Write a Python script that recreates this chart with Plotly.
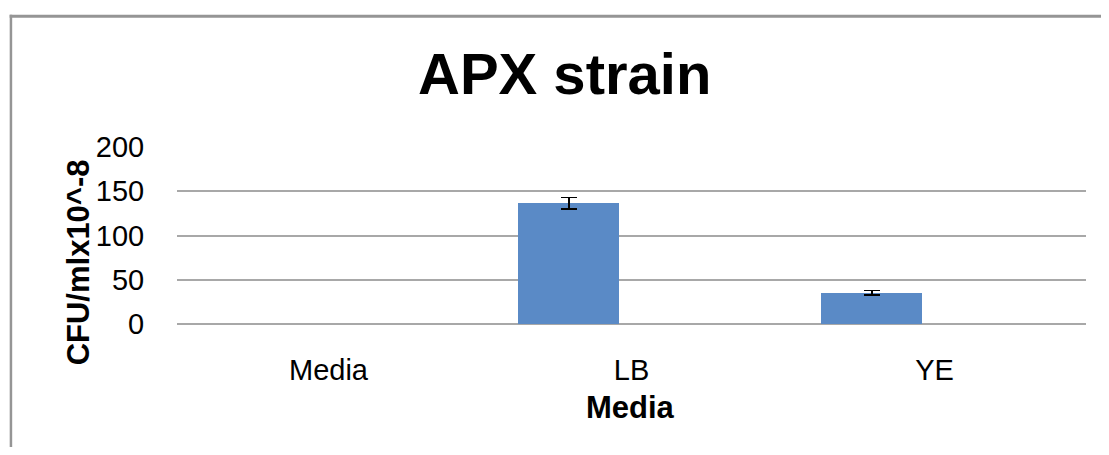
import plotly.graph_objects as go

# ---- data ----
categories = ["Media", "LB", "YE"]
cfu_values = [None, 136.2, 35.1]   # Media: no visible bar (0 / no growth)
cfu_errors = [None, 6.5, 2.5]
y_ticks = [0, 50, 100, 150, 200]

W, H = 1109, 455
OFF = 8  # default page body margin
FW, FH = W - 2 * OFF, H - 2 * OFF
# plot area in page pixels
PL, PR, PT, PB = 177.3, 1086.0, 147.0, 323.7
pw, ph = PR - PL, PB - PT

def px_x(x):
    return (x - PL) / pw

def px_y(y):
    return (PB - y) / ph

FONT = "Liberation Sans, Arial, sans-serif"

fig = go.Figure()
fig.add_trace(go.Bar(
    x=categories,
    y=cfu_values,
    width=0.333,
    offset=-0.373,
    marker=dict(color="#5a8ac6", line=dict(width=0)),
    error_y=dict(type="data", array=cfu_errors, visible=True,
                 color="black", thickness=1.5, width=8),
    showlegend=False,
))

fig.update_layout(
    width=FW, height=FH,
    margin=dict(l=PL - OFF, r=(OFF + FW) - PR, t=PT - OFF, b=(OFF + FH) - PB, pad=0),
    paper_bgcolor="white",
    plot_bgcolor="white",
    font=dict(family=FONT, color="black"),
    showlegend=False,
    bargap=0,
)

fig.update_xaxes(
    type="category",
    range=[-0.5, 2.5],
    showgrid=False,
    showline=False,
    zeroline=False,
    ticks="outside", ticklen=20, tickcolor="rgba(0,0,0,0)",
    tickfont=dict(size=29, family=FONT, color="black"),
)
fig.update_yaxes(
    range=[0, 200],
    tickvals=y_ticks,
    showgrid=True, gridcolor="#a8a8a8", gridwidth=1.5,
    zeroline=True, zerolinecolor="#a8a8a8", zerolinewidth=1.5,
    showline=False,
    ticks="outside", ticklen=26, tickcolor="rgba(0,0,0,0)",
    tickfont=dict(size=29, family=FONT, color="black"),
)

# title
fig.add_annotation(
    text="<b>APX strain</b>", xref="paper", yref="paper",
    x=px_x(565), y=px_y(74), xanchor="center", yanchor="middle",
    showarrow=False, font=dict(size=58, family=FONT, color="black"),
)
# x axis title
fig.add_annotation(
    text="<b>Media</b>", xref="paper", yref="paper",
    x=px_x(631), y=px_y(407), xanchor="center", yanchor="middle",
    showarrow=False, font=dict(size=31, family=FONT, color="black"),
)
# y axis title
fig.add_annotation(
    text="<b>CFU/mlx10^-8</b>", xref="paper", yref="paper",
    x=px_x(79), y=px_y(262.5), xanchor="center", yanchor="middle",
    textangle=-90,
    showarrow=False, font=dict(size=31, family=FONT, color="black"),
)

# outer chart frame (top and left edges visible)
fig.add_shape(type="line", xref="paper", yref="paper",
              x0=px_x(10), x1=px_x(OFF + FW), y0=px_y(16.5), y1=px_y(16.5),
              line=dict(color="#959595", width=3))
fig.add_shape(type="line", xref="paper", yref="paper",
              x0=px_x(11.3), x1=px_x(11.3), y0=px_y(15), y1=px_y(OFF + FH),
              line=dict(color="#959595", width=2.5))

fig.write_html("out.html")
